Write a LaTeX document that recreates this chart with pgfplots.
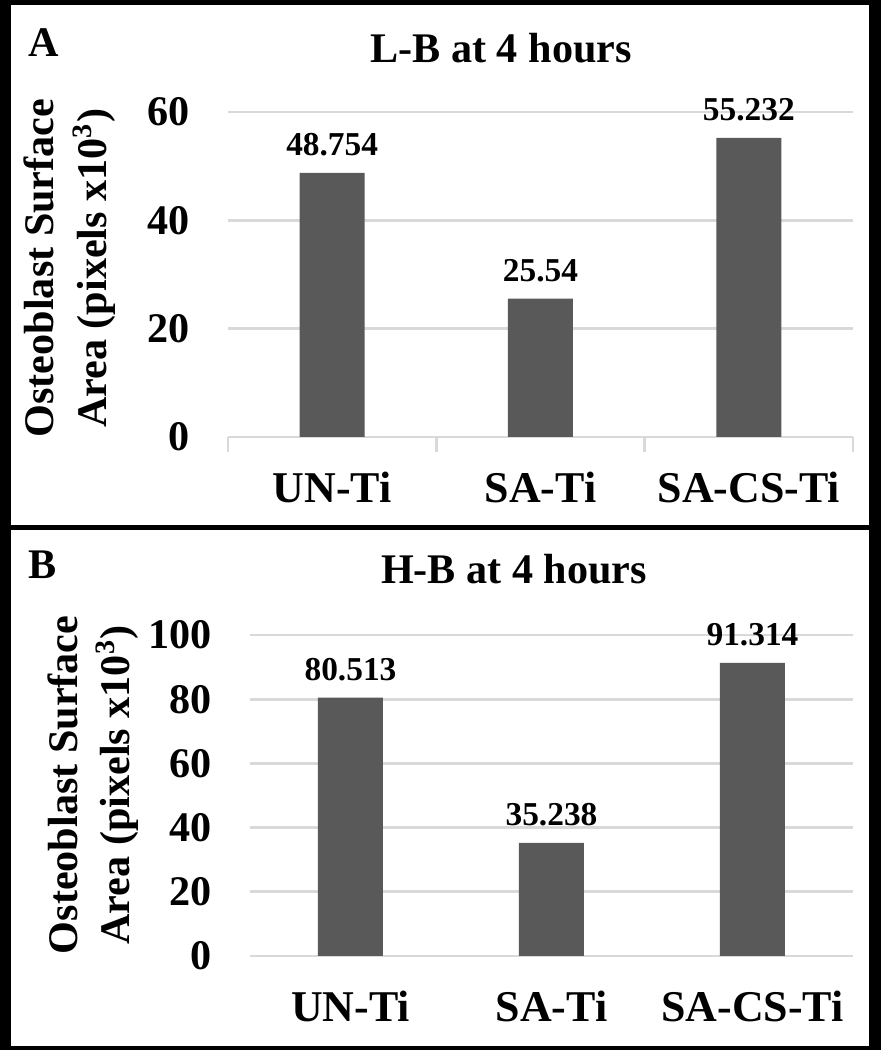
\documentclass[border=0pt]{standalone}
\usepackage{fontspec}
\setmainfont{Liberation Serif}
\usepackage{pgfplots}
\pgfplotsset{compat=1.18}
\definecolor{bargray}{HTML}{595959}
\definecolor{gridgray}{HTML}{D9D9D9}

\pgfplotsset{
  panel/.style={
    scale only axis,
    anchor=south west,
    ybar, bar width=0.65cm,
    xmin=-0.5, xmax=2.5, ymin=0,
    xtick={0,1,2},
    xticklabels={UN-Ti,SA-Ti,SA-CS-Ti},
    axis line style={draw=none},
    tick style={draw=none},
    xtick pos=left, ytick pos=left,
    ymajorgrids, grid style={gridgray, line width=0.8pt},
    xticklabel style={font=\fontsize{12.5}{15}\selectfont\bfseries, anchor=north, inner sep=0pt, yshift=-5.5pt},
    yticklabel style={font=\fontsize{12}{14}\selectfont\bfseries, anchor=east, inner sep=0pt, xshift=-10.8pt},
    /pgf/number format/assume math mode=true,
    title style={font=\fontsize{12}{14}\selectfont\bfseries, anchor=base, inner sep=0pt},
    ylabel style={font=\fontsize{12}{15}\selectfont\bfseries, align=center, anchor=center, inner sep=0pt},
    ylabel={Osteoblast Surface\\Area (pixels x10\textsuperscript{3})},
    point meta=explicit symbolic,
    nodes near coords={\pgfplotspointmeta},
    every node near coord/.append style={font=\fontsize{9.5}{11}\selectfont\bfseries, anchor=south, inner sep=0pt, yshift=4.5pt},
  }
}

\begin{document}
\begin{tikzpicture}
  % frame
  \fill[black] (0,0) rectangle (8.81,10.5);
  \fill[white] (0.11,5.25) rectangle (8.69,10.45);
  \fill[white] (0.11,0.04) rectangle (8.69,5.20);

  % panel A
  \begin{axis}[panel,
      at={(2.28cm,6.13cm)}, width=6.25cm, height=3.25cm,
      ymax=60, ytick={0,20,40,60},
      title={L-B at 4 hours},
      title style={at={(axis description cs:0.437,1.086)}},
      ylabel style={at={(axis description cs:-0.253,0.52)}},
      extra x ticks={-0.5,0.5,1.5,2.5},
      extra x tick labels={},
      extra x tick style={tick style={draw=gridgray, line width=0.8pt},
        major tick length=4.3pt, tick align=outside},
    ]
    \addplot[fill=bargray, draw=none] coordinates {
      (0,48.754) [48.754]
      (1,25.54)  [25.54]
      (2,55.232) [55.232]
    };
  \end{axis}

  % panel B
  \begin{axis}[panel,
      at={(2.50cm,0.94cm)}, width=6.03cm, height=3.21cm,
      ymax=100, ytick={0,20,40,60,80,100},
      title={H-B at 4 hours},
      title style={at={(axis description cs:0.438,1.096)}},
      ylabel style={at={(axis description cs:-0.26,0.533)}},
    ]
    \addplot[fill=bargray, draw=none] coordinates {
      (0,80.513) [80.513]
      (1,35.238) [35.238]
      (2,91.314) [91.314]
    };
  \end{axis}

  \node[font=\fontsize{12}{14}\selectfont\bfseries, anchor=base west, inner sep=0pt] at (0.28,9.93) {A};
  \node[font=\fontsize{12}{14}\selectfont\bfseries, anchor=base west, inner sep=0pt] at (0.28,4.71) {B};

  \pgfresetboundingbox
  \useasboundingbox (0,0) rectangle (8.81,10.5);
\end{tikzpicture}
\end{document}
